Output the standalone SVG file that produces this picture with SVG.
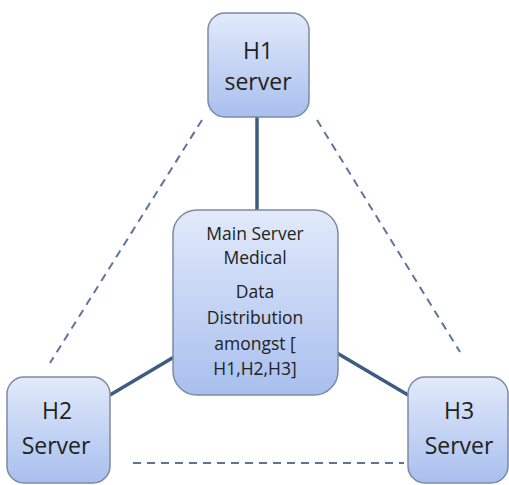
<svg xmlns="http://www.w3.org/2000/svg" width="509" height="485" viewBox="0 0 509 485">
<defs>
<linearGradient id="g" x1="0" y1="0" x2="0" y2="1">
<stop offset="0" stop-color="#e2eafb"/>
<stop offset="1" stop-color="#a8bfee"/>
</linearGradient>
<style>
.box{fill:url(#g);stroke:#7d8aa3;stroke-width:1.5}
.t{font-family:"Open Sans","Liberation Sans",sans-serif;fill:#222222;text-anchor:middle}
.big{font-size:23px}
.small{font-size:17.5px}
.solid{stroke:#3e5b82;stroke-width:3.5;fill:none}
.dash{stroke:#5f7597;stroke-width:2;stroke-dasharray:8 6;fill:none}
</style>
</defs>
<rect width="509" height="485" fill="#ffffff"/>
<g id="connectors">
<line class="solid" x1="257" y1="117" x2="257" y2="211"/>
<line class="solid" x1="174" y1="357" x2="110" y2="395"/>
<line class="solid" x1="337" y1="353" x2="408" y2="395"/>
<line class="dash" x1="202" y1="120" x2="50" y2="363"/>
<line class="dash" x1="317" y1="120" x2="460" y2="352"/>
<line class="dash" x1="133" y1="463" x2="404" y2="463"/>
</g>
<g id="h1">
<rect class="box" x="208" y="13" width="101" height="104" rx="17"/>
<text class="t big" x="258" y="59">H1</text>
<text class="t big" x="258" y="90">server</text>
</g>
<g id="main">
<rect class="box" x="173" y="210" width="165" height="185" rx="24"/>
<text class="t small" x="255" y="240">Main Server</text>
<text class="t small" x="255" y="264">Medical</text>
<text class="t small" x="255" y="298">Data</text>
<text class="t small" x="255" y="324">Distribution</text>
<text class="t small" x="255" y="350">amongst [</text>
<text class="t small" x="255" y="375">H1,H2,H3]</text>
</g>
<g id="h2">
<rect class="box" x="7" y="377" width="103" height="106" rx="17"/>
<text class="t big" x="57" y="419">H2</text>
<text class="t big" x="56" y="454">Server</text>
</g>
<g id="h3">
<rect class="box" x="408" y="377" width="100" height="106" rx="17"/>
<text class="t big" x="459" y="419">H3</text>
<text class="t big" x="459" y="454">Server</text>
</g>
</svg>
